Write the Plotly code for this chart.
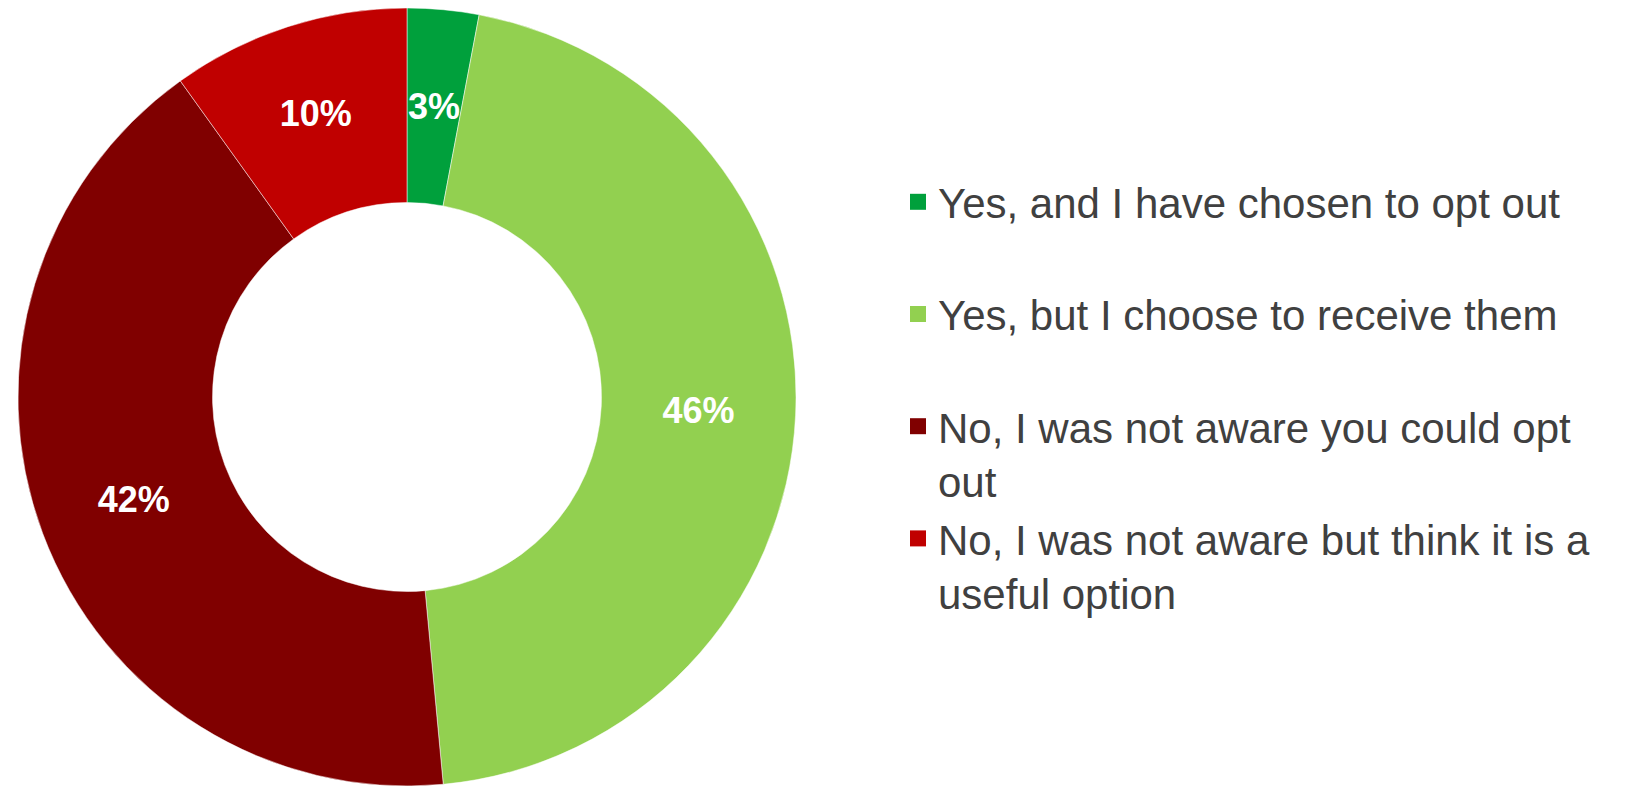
import math
import plotly.graph_objects as go

categories = [
    "Yes, and I have chosen to opt out<br>&nbsp;",
    "Yes, but I choose to receive them<br>&nbsp;",
    "No, I was not aware you could opt<br>out",
    "No, I was not aware but think it is a<br>useful option",
]
values = [3, 46, 42, 10]
colors = ["#00A03C", "#92D050", "#800000", "#C00000"]

W, H = 1627, 786
cx, cy, r = 399, 389, 389
hole = 0.5

# slices too narrow for plotly to centre their text get an annotation at mid-ring
narrow = [v / sum(values) < 0.05 for v in values]
texts = ["" if n else "%{value}%" for n in narrow]

fig = go.Figure(
    go.Pie(
        labels=categories,
        values=values,
        hole=hole,
        sort=False,
        direction="clockwise",
        rotation=0,
        marker=dict(colors=colors, line=dict(color="white", width=0.5)),
        texttemplate=texts,
        textposition="inside",
        insidetextorientation="horizontal",
        textfont=dict(family="Liberation Sans", size=36, color="white", weight="bold"),
        domain=dict(x=[(cx - r) / W, (cx + r) / W],
                    y=[max(0, (H - cy - r) / H), min(1, (H - cy + r) / H)]),
        hoverinfo="label+percent",
        showlegend=False,
    )
)

# legend entries with larger square swatches
for name, col in zip(categories, colors):
    fig.add_trace(go.Scatter(
        x=[None], y=[None], mode="markers", name=name,
        marker=dict(symbol="square", size=16, color=col),
        hoverinfo="skip",
    ))

total = sum(values)
cum = 0
rm = r * (1 + hole) / 2
for v, n in zip(values, narrow):
    mid = (cum + v / 2) / total * 2 * math.pi
    cum += v
    if n:
        px = cx + rm * math.sin(mid)
        py = cy - rm * math.cos(mid)
        fig.add_annotation(
            x=px / W, y=1 - py / H, xref="paper", yref="paper",
            xanchor="center", yanchor="middle",
            text=f"{v}%", showarrow=False,
            font=dict(family="Liberation Sans", size=36, color="white", weight="bold"),
        )

fig.update_layout(
    width=W,
    height=H,
    margin=dict(l=0, r=0, t=0, b=0),
    paper_bgcolor="white",
    plot_bgcolor="rgba(0,0,0,0)",
    xaxis=dict(visible=False),
    yaxis=dict(visible=False),
    uniformtext=dict(mode="show", minsize=36),
    showlegend=True,
    legend=dict(
        x=890 / W,
        xanchor="left",
        y=1 - 160 / H,
        yanchor="top",
        valign="top",
        itemsizing="trace",
        font=dict(family="Liberation Sans", size=42, color="#404040"),
        bgcolor="rgba(0,0,0,0)",
    ),
)

fig.write_html("out.html")
